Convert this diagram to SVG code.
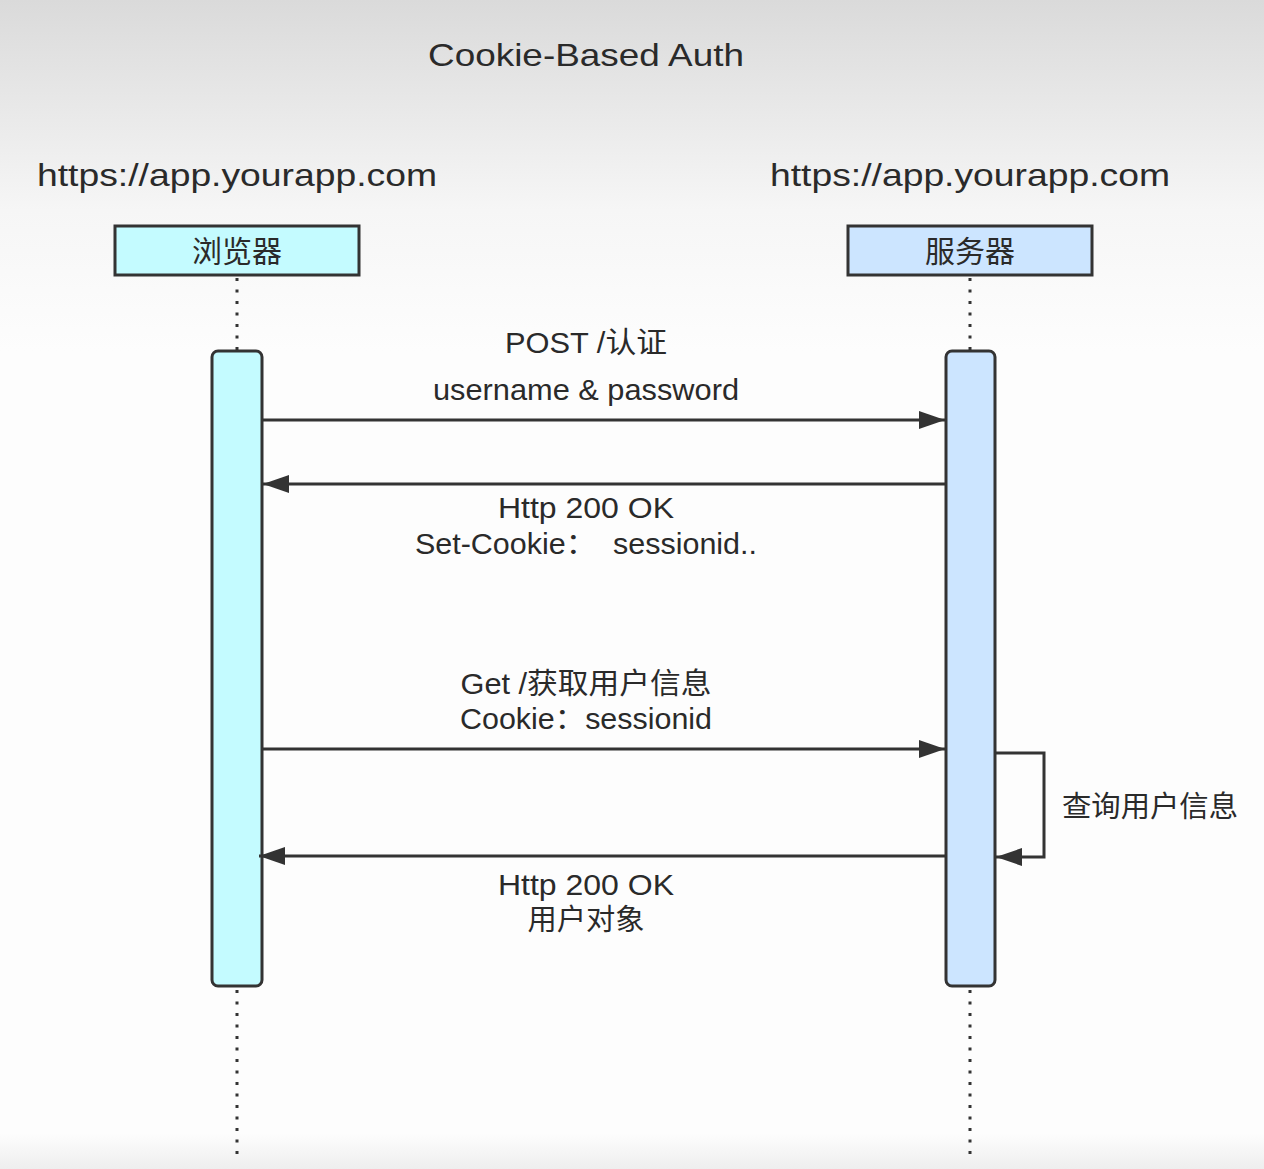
<svg xmlns="http://www.w3.org/2000/svg" width="1264" height="1169" viewBox="0 0 1264 1169">
<defs>
<linearGradient id="bg" x1="0" y1="0" x2="0" y2="1">
<stop offset="0" stop-color="#dadada"/>
<stop offset="0.18" stop-color="#f6f6f6"/>
<stop offset="0.3" stop-color="#fdfdfd"/>
<stop offset="0.97" stop-color="#fdfdfd"/>
<stop offset="1" stop-color="#eeeeee"/>
</linearGradient>
<marker id="ah2" viewBox="0 0 26 18" refX="26" refY="9" markerWidth="26" markerHeight="18" markerUnits="userSpaceOnUse" orient="auto">
<path d="M0,0 L26,9 L0,18 Z" fill="#333"/>
</marker>
</defs>
<style>
text{font-family:"Liberation Sans","Noto Sans CJK SC",sans-serif;fill:#2a2a2a}
.t{font-size:32px}
.l{font-size:29px;text-anchor:middle}
.box{stroke:#333;stroke-width:3}
.life{stroke:#333;stroke-width:3;stroke-dasharray:3 8.5}
.act{stroke:#333;stroke-width:3}
.msg{stroke:#333;stroke-width:3;fill:none;marker-end:url(#ah2)}
</style>
<rect width="1264" height="1169" fill="url(#bg)"/>
<text class="t" x="586" y="66" text-anchor="middle" textLength="316" lengthAdjust="spacingAndGlyphs">Cookie-Based Auth</text>
<text class="t" x="37" y="186" textLength="400" lengthAdjust="spacingAndGlyphs">https://app.yourapp.com</text>
<text class="t" x="770" y="186" textLength="400" lengthAdjust="spacingAndGlyphs">https://app.yourapp.com</text>

<g id="browser">
<rect class="box" x="115" y="226" width="244" height="49" fill="#c4fbff"/>
<text x="237" y="262" font-size="30" text-anchor="middle">浏览器</text>
<line class="life" x1="237" y1="278" x2="237" y2="350"/>
<line class="life" x1="237" y1="990" x2="237" y2="1156"/>
<rect class="act" x="212" y="351" width="50" height="635" rx="6" fill="#c4fbff"/>
</g>

<g id="server">
<rect class="box" x="848" y="226" width="244" height="49" fill="#cce5ff"/>
<text x="970" y="262" font-size="30" text-anchor="middle">服务器</text>
<line class="life" x1="970" y1="278" x2="970" y2="350"/>
<line class="life" x1="970" y1="990" x2="970" y2="1156"/>
<rect class="act" x="946" y="351" width="49" height="635" rx="6" fill="#cce5ff"/>
</g>

<g id="connectors">
<line class="msg" x1="262" y1="420" x2="945" y2="420"/>
<line class="msg" x1="946" y1="484" x2="263" y2="484"/>
<line class="msg" x1="262" y1="749" x2="945" y2="749"/>
<line class="msg" x1="946" y1="856" x2="259" y2="856"/>
<path class="msg" d="M996,753 H1044 V857 H996"/>
</g>

<g id="labels">
<text class="l" x="586" y="353" textLength="162" lengthAdjust="spacingAndGlyphs">POST /认证</text>
<text class="l" x="586" y="400" textLength="306" lengthAdjust="spacingAndGlyphs">username &amp; password</text>
<text class="l" x="586" y="518" textLength="176" lengthAdjust="spacingAndGlyphs">Http 200 OK</text>
<text class="l" x="586" y="554" xml:space="preserve" textLength="342" lengthAdjust="spacingAndGlyphs">Set-Cookie：  sessionid..</text>
<text class="l" x="586" y="694" textLength="251" lengthAdjust="spacingAndGlyphs">Get /获取用户信息</text>
<text class="l" x="586" y="729" textLength="252" lengthAdjust="spacingAndGlyphs">Cookie：sessionid</text>
<text x="1062" y="817" font-size="29" textLength="176" lengthAdjust="spacingAndGlyphs">查询用户信息</text>
<text class="l" x="586" y="895" textLength="176" lengthAdjust="spacingAndGlyphs">Http 200 OK</text>
<text class="l" x="586" y="930" textLength="117" lengthAdjust="spacingAndGlyphs">用户对象</text>
</g>
</svg>
